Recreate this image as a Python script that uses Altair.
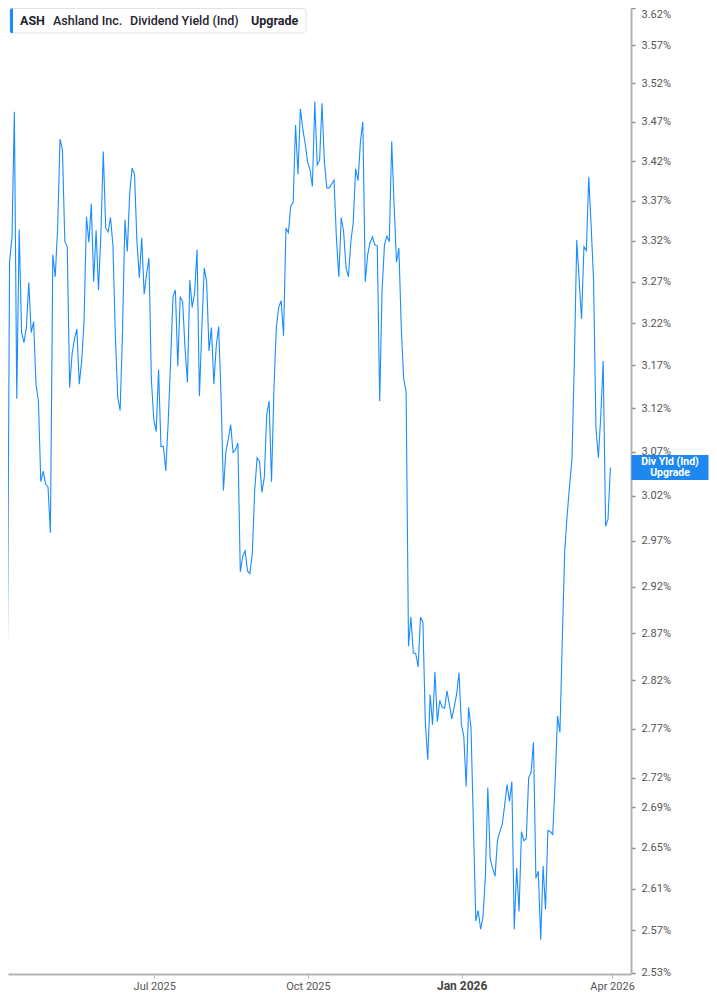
import altair as alt
import pandas as pd

# ---------------- text ----------------
ticker = "ASH"
company = "Ashland Inc."
metric = "Dividend Yield (Ind)"
badge = "Upgrade"
tag_line1 = "Div Yld (Ind)"
tag_line2 = "Upgrade"

# ---------------- data (dividend yield, %) ----------------
start_date = "2025-04-04"
end_date = "2026-03-31"

yield_apr_jun_2025 = [
    2.800, 3.294, 3.324, 3.483, 3.131, 3.334, 3.209, 3.197, 3.215, 3.269,
    3.209, 3.222, 3.148, 3.128, 3.036, 3.048, 3.033, 3.030, 2.979, 3.303,
    3.276, 3.336, 3.448, 3.434, 3.319, 3.313, 3.144, 3.183, 3.201, 3.213,
    3.148, 3.175, 3.222, 3.350, 3.318, 3.366, 3.270, 3.333, 3.260, 3.328,
    3.432, 3.336, 3.331, 3.349, 3.315, 3.207, 3.133, 3.117, 3.210, 3.346,
    3.307, 3.381, 3.411, 3.403, 3.319, 3.275, 3.324, 3.255, 3.279, 3.299,
    3.154, 3.107, 3.093,
]
yield_jul_sep_2025 = [
    3.165, 3.076, 3.076, 3.048, 3.104, 3.174, 3.252, 3.260, 3.169, 3.252,
    3.246, 3.191, 3.150, 3.272, 3.239, 3.257, 3.309, 3.134, 3.213, 3.287,
    3.270, 3.187, 3.215, 3.148, 3.193, 3.216, 3.133, 3.026, 3.070, 3.084,
    3.101, 3.069, 3.072, 3.080, 2.936, 2.953, 2.959, 2.937, 2.934, 2.956,
    3.026, 3.063, 3.059, 3.024, 3.041, 3.113, 3.128, 3.036, 3.142, 3.215,
    3.239, 3.247, 3.205, 3.336, 3.330, 3.363, 3.368, 3.466, 3.403, 3.487,
    3.461, 3.442,
]
yield_oct_dec_2025 = [
    3.419, 3.409, 3.388, 3.496, 3.415, 3.421, 3.494, 3.419, 3.386, 3.386,
    3.391, 3.396, 3.324, 3.276, 3.349, 3.331, 3.287, 3.276, 3.319, 3.343,
    3.410, 3.395, 3.445, 3.470, 3.270, 3.303, 3.318, 3.325, 3.315, 3.314,
    3.128, 3.260, 3.315, 3.326, 3.319, 3.445, 3.365, 3.294, 3.311, 3.213,
    3.154, 3.139, 2.856, 2.887, 2.849, 2.848, 2.834, 2.887, 2.881, 2.776,
    2.738, 2.805, 2.774, 2.829, 2.777, 2.799, 2.792, 2.791, 2.809, 2.795,
    2.780, 2.792, 2.805,
]
yield_jan_mar_2026 = [
    2.828, 2.774, 2.762, 2.711, 2.792, 2.771, 2.673, 2.579, 2.589, 2.571,
    2.583, 2.623, 2.710, 2.639, 2.630, 2.622, 2.657, 2.666, 2.673, 2.692,
    2.713, 2.696, 2.716, 2.571, 2.630, 2.588, 2.666, 2.657, 2.659, 2.720,
    2.725, 2.756, 2.620, 2.627, 2.561, 2.632, 2.590, 2.667, 2.666, 2.663,
    2.715, 2.783, 2.766, 2.864, 2.959, 2.998, 3.031, 3.061, 3.174, 3.321,
    3.272, 3.225, 3.313, 3.308, 3.400, 3.338, 3.272, 3.096, 3.063, 3.111,
    3.175, 2.986, 2.994, 3.052,
]

y_ticks = [2.53, 2.57, 2.61, 2.65, 2.69, 2.72, 2.77, 2.82, 2.87, 2.92, 2.97,
           3.02, 3.07, 3.12, 3.17, 3.22, 3.27, 3.32, 3.37, 3.42, 3.47, 3.52,
           3.57, 3.62]

values = yield_apr_jun_2025 + yield_jul_sep_2025 + yield_oct_dec_2025 + yield_jan_mar_2026
dates = pd.date_range(start_date, end_date, periods=len(values))
df = pd.DataFrame({"date": dates, "yield": values})
last_df = df.tail(1)
one = pd.DataFrame({"k": [0]})

LINE = "#1a8cff"
TAG = "#1e88f0"
AXIS = "#b3b3b3"
LABEL = "#555555"
FONT = "Roboto"

x_scale = alt.Scale(domain=[alt.DateTime(year=2025, month=4, date=4, hours=12),
                            alt.DateTime(year=2026, month=4, date=12, hours=8)])
y_scale = alt.Scale(type="log", domain=[2.5286, 3.62], nice=False, zero=False)

is_jan = "month(datum.value) == 0"
x_axis = alt.Axis(
    values=[alt.DateTime(year=2025, month=7, date=1),
            alt.DateTime(year=2025, month=10, date=1),
            alt.DateTime(year=2026, month=1, date=1),
            alt.DateTime(year=2026, month=4, date=1)],
    format="%b %Y", title=None, grid=False,
    domainColor=AXIS, domainWidth=2, tickColor=AXIS, tickSize=4, tickWidth=1,
    labelFont=FONT,
    labelColor={"condition": {"test": is_jan, "value": "#444444"}, "value": LABEL},
    labelFontSize={"condition": {"test": is_jan, "value": 12}, "value": 11},
    labelFontWeight={"condition": {"test": is_jan, "value": "bold"}, "value": "normal"},
    labelPadding=2, labelFlush=False,
)
y_axis = alt.Axis(
    orient="right", values=y_ticks, title=None, grid=False,
    labelExpr="format(datum.value, '.2f') + '%'",
    domainColor=AXIS, domainWidth=2, tickColor="#888888", tickSize=4, tickWidth=1.5,
    labelFont=FONT, labelFontSize=11, labelColor=LABEL, labelPadding=6,
    labelFlush=1,
)

line = alt.Chart(df).mark_line(color=LINE, strokeWidth=1.1).encode(
    x=alt.X("date:T", scale=x_scale, axis=x_axis),
    y=alt.Y("yield:Q", scale=y_scale, axis=y_axis),
)

TAG_X = 662
tag_box = alt.Chart(last_df).mark_point(
    shape="M-1,-0.3247L1,-0.3247L1,0.3247L-1,0.3247Z", size=5929,
    filled=True, opacity=1, color=TAG, strokeWidth=0,
).encode(x=alt.value(TAG_X), y=alt.Y("yield:Q", scale=y_scale))
tag_t1 = alt.Chart(last_df).mark_text(
    color="white", font=FONT, fontSize=10.5, fontWeight="bold", dy=-5.75, align="center", baseline="middle",
).encode(x=alt.value(TAG_X), y=alt.Y("yield:Q", scale=y_scale), text=alt.value(tag_line1))
tag_t2 = alt.Chart(last_df).mark_text(
    color="white", font=FONT, fontSize=10.5, fontWeight="bold", dy=5.75, align="center", baseline="middle",
).encode(x=alt.value(TAG_X), y=alt.Y("yield:Q", scale=y_scale), text=alt.value(tag_line2))

leg_box = alt.Chart(one).mark_rect(fill="white", stroke="#e2e2e2", strokeWidth=1, cornerRadius=3).encode(
    x=alt.value(2), x2=alt.value(298), y=alt.value(0.5), y2=alt.value(25))
leg_bar = alt.Chart(one).mark_rect(color=LINE, cornerRadiusTopLeft=3, cornerRadiusBottomLeft=3).encode(
    x=alt.value(2), x2=alt.value(5), y=alt.value(0.5), y2=alt.value(25))

def leg_text(txt, xpos, weight):
    return alt.Chart(one).mark_text(
        align="left", baseline="middle", font=FONT, fontSize=12.5, fontWeight=weight, color="#1f2430",
    ).encode(x=alt.value(xpos), y=alt.value(13), text=alt.value(txt))

chart = alt.layer(
    line, tag_box, tag_t1, tag_t2, leg_box, leg_bar,
    leg_text(ticker, 12, 700), leg_text(company, 45, 500),
    leg_text(metric, 122, 500), leg_text(badge, 243, 700),
).properties(
    width=623, height=966,
    autosize=alt.AutoSizeParams(type="none"),
    padding={"left": 0, "top": 0, "right": 78, "bottom": 19},
    background="white",
).configure_view(stroke=None)

chart.save("out.html", embed_options={"renderer": "svg", "actions": False})
